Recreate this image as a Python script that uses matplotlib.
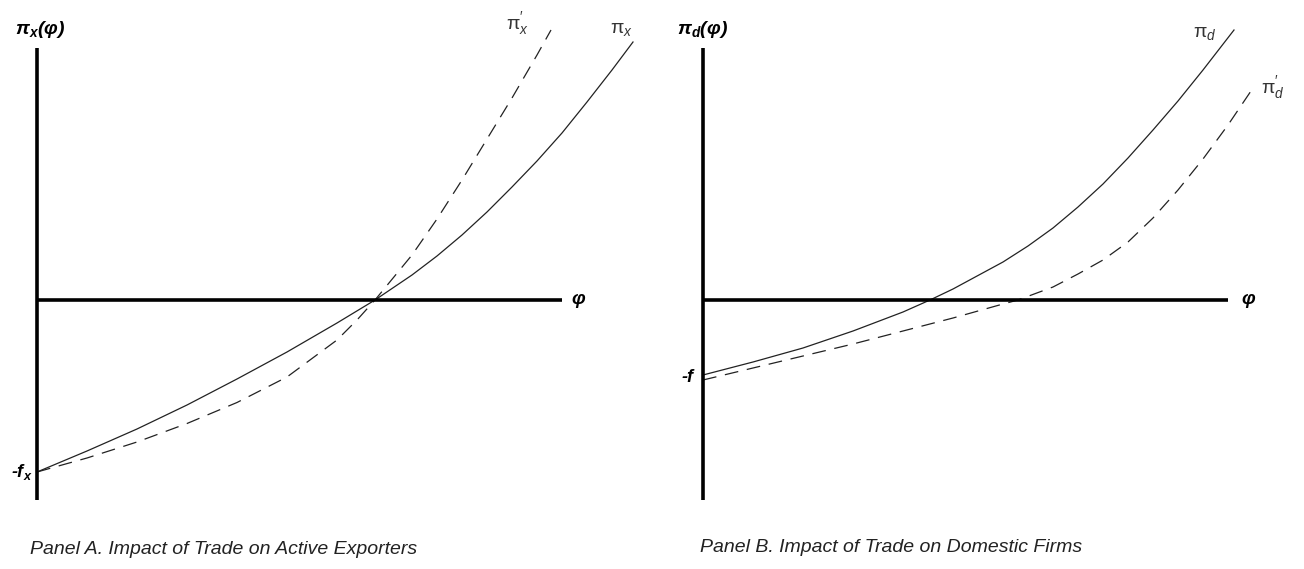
import matplotlib
import matplotlib.pyplot as plt

matplotlib.use('Agg')

plt.rcParams['font.family'] = ['Liberation Sans', 'DejaVu Sans']
plt.rcParams['mathtext.fontset'] = 'custom'
plt.rcParams['mathtext.rm'] = 'Liberation Sans'
plt.rcParams['mathtext.it'] = 'Liberation Sans:italic'
plt.rcParams['mathtext.bf'] = 'Liberation Sans:bold:italic'

# Panel A: profits of exporters, before (pi_x) and after (pi'_x) trade
phi_x = [0, 0.5, 1.0, 1.5, 2.0, 2.5, 3.0, 3.38, 3.75, 4.0, 4.25, 4.5, 4.75,
         5.0, 5.25, 5.5, 5.75, 5.96]
pi_x = [-1.72, -1.51, -1.29, -1.05, -0.79, -0.52, -0.23, 0.0, 0.25, 0.44,
        0.65, 0.88, 1.13, 1.39, 1.67, 1.98, 2.30, 2.58]
phi_x_new = [0, 0.5, 1.0, 1.5, 2.0, 2.5, 3.0, 3.2, 3.38, 3.75, 4.0, 4.25,
             4.5, 4.75, 5.0, 5.14]
pi_x_new = [-1.72, -1.58, -1.42, -1.235, -1.025, -0.77, -0.40, -0.20, 0.0,
            0.45, 0.81, 1.20, 1.61, 2.02, 2.45, 2.70]

# Panel B: profits of domestic firms, before (pi_d) and after (pi'_d) trade
phi_d = [0, 0.5, 1.0, 1.5, 2.0, 2.27, 2.5, 3.0, 3.25, 3.5, 3.75, 4.0, 4.25,
         4.5, 4.75, 5.0, 5.31]
pi_d = [-0.75, -0.62, -0.48, -0.31, -0.12, 0.0, 0.11, 0.38, 0.54, 0.72,
        0.93, 1.16, 1.42, 1.70, 1.99, 2.30, 2.70]
phi_d_new = [0, 0.5, 1.0, 1.5, 2.0, 2.5, 3.0, 3.15, 3.5, 3.75, 4.0, 4.25,
             4.5, 4.75, 5.0, 5.25, 5.5]
pi_d_new = [-0.80, -0.68, -0.56, -0.44, -0.31, -0.18, -0.04, 0.0, 0.13,
            0.26, 0.40, 0.58, 0.82, 1.10, 1.41, 1.75, 2.12]

fig = plt.figure(figsize=(13.04, 5.69), dpi=100)


def make_panel(rect, x0):
    ax = fig.add_axes(rect)
    ax.set_xlim(x0, x0 + 6.52)
    ax.set_ylim(-2.69, 3.0)
    for side in ['top', 'right']:
        ax.spines[side].set_visible(False)
    ax.spines['left'].set_position(('data', 0))
    ax.spines['bottom'].set_position(('data', 0))
    ax.spines['left'].set_bounds(-2.0, 2.52)
    ax.spines['bottom'].set_bounds(0, 5.25)
    for side in ['left', 'bottom']:
        ax.spines[side].set_linewidth(2.6)
        ax.spines[side].set_capstyle('butt')
    ax.set_xticks([])
    ax.set_yticks([])
    ax.patch.set_visible(False)
    return ax


axA = make_panel([0, 0, 0.5, 1], -0.37)
axA.plot(phi_x, pi_x, color='#222222', lw=0.9)
axA.plot(phi_x_new, pi_x_new, color='#222222', lw=0.9, dashes=(11, 7))
axA.text(0.03, 2.70, r'π$_{\mathbf{x}}$(φ)', fontsize=14, fontweight='bold',
         style='italic', ha='center', va='center')
axA.text(-0.04, -1.72, r'-f$_{\mathbf{x}}$', fontsize=13, fontweight='bold',
         style='italic', ha='right', va='center')
axA.text(5.41, 0.0, 'φ', fontsize=14, fontweight='bold', style='italic',
         ha='center', va='center')
axA.text(4.80, 2.76, r'π$^{\prime}_{x}$', fontsize=14, color='#333333',
         ha='center', va='center')
axA.text(5.84, 2.71, r'π$_{x}$', fontsize=14, color='#333333',
         ha='center', va='center')

axB = make_panel([0.5, 0, 0.5, 1], -0.51)
axB.plot(phi_d, pi_d, color='#222222', lw=0.9)
axB.plot(phi_d_new, pi_d_new, color='#222222', lw=0.9, dashes=(11, 7))
axB.text(0.0, 2.70, r'π$_{\mathbf{d}}$(φ)', fontsize=14, fontweight='bold',
         style='italic', ha='center', va='center')
axB.text(-0.10, -0.77, '-f', fontsize=13, fontweight='bold',
         style='italic', ha='right', va='center')
axB.text(5.45, 0.0, 'φ', fontsize=14, fontweight='bold', style='italic',
         ha='center', va='center')
axB.text(5.02, 2.66, r'π$_{d}$', fontsize=14, color='#333333',
         ha='center', va='center')
axB.text(5.70, 2.12, r'π$^{\prime}_{d}$', fontsize=14, color='#333333',
         ha='center', va='center')

fig.text(30 / 1304, 1 - 549 / 569, 'Panel A. Impact of Trade on Active Exporters',
         fontsize=14, style='italic', color='#222222', va='center')
fig.text(700 / 1304, 1 - 547 / 569, 'Panel B. Impact of Trade on Domestic Firms',
         fontsize=14, style='italic', color='#222222', va='center')

fig.savefig('out.png', dpi=100)
